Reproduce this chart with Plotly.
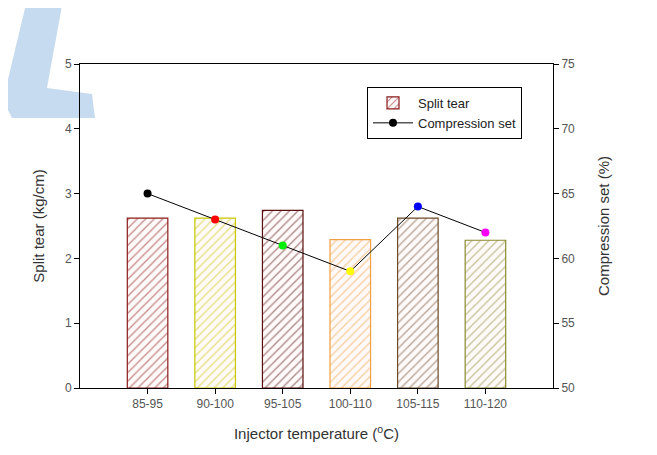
import plotly.graph_objects as go

categories = ["85-95", "90-100", "95-105", "100-110", "105-115", "110-120"]
split_tear = [2.62, 2.62, 2.74, 2.29, 2.62, 2.28]
compression_set = [65.0, 63.0, 61.0, 59.0, 64.0, 62.0]
bar_colors = ["#8b1a1a", "#c8c800", "#5a0f0f", "#f0a040", "#6b4a2a", "#8a8a30"]
marker_colors = ["#000000", "#ff0000", "#00ee00", "#ffff00", "#0000ff", "#ff00ff"]

W, H = 657, 455
OFF = 8  # page body offset
L, R, T, B = 80 - OFF, 553 - OFF, 64 - OFF, 388 - OFF

def px(x, y):
    x -= OFF
    y -= OFF
    return (x - L) / (R - L), (B - y) / (B - T)

fig = go.Figure()

# watermark-like decoration
pts = [(27, 0), (63, 0), (47, 88), (92, 94), (95, 118), (12, 118), (3, 100)]
path = "M " + " L ".join(f"{px(x, y)[0]:.4f},{px(x, y)[1]:.4f}" for x, y in pts) + " Z"
fig.add_shape(type="path", path=path, xref="paper", yref="paper",
              fillcolor="rgba(160,195,228,0.6)", line=dict(width=0), layer="below")

fig.add_trace(go.Bar(
    x=categories, y=split_tear, name="Split tear", width=0.6,
    marker=dict(color="white",
                line=dict(color=bar_colors, width=1.2),
                pattern=dict(shape="/", fgcolor=bar_colors, bgcolor="#fffafa",
                             size=6, solidity=0.22)),
))
fig.add_trace(go.Scatter(
    x=categories, y=compression_set, name="Compression set", yaxis="y2",
    mode="lines+markers",
    line=dict(color="black", width=1),
    marker=dict(color=marker_colors, size=8),
))

axis_font = dict(family="Liberation Sans, Arial", size=12, color="#555")
title_font = dict(family="Liberation Sans, Arial", size=15, color="#333")
lx, ly = px(367, 87)
fig.update_layout(
    width=W, height=H,
    margin=dict(l=L, r=W - R, t=T, b=H - B, autoexpand=False),
    plot_bgcolor="white", paper_bgcolor="white",
    showlegend=True,
    legend=dict(x=lx, y=ly, xanchor="left", yanchor="top",
                bordercolor="black", borderwidth=1, bgcolor="white",
                font=dict(family="Liberation Sans, Arial", size=13, color="#222"),
                tracegroupgap=0, itemwidth=40),
    xaxis=dict(range=[-1, 6], showline=True, linecolor="black", linewidth=1,
               mirror=True, ticks="outside", ticklen=5, tickcolor="black",
               tickfont=axis_font, showgrid=False,
               title=dict(text="Injector temperature (<sup>o</sup>C)",
                          font=title_font, standoff=18)),
    yaxis=dict(range=[0, 5], dtick=1, showline=True, linecolor="black", linewidth=1,
               ticks="outside", ticklen=5, tickcolor="black", tickfont=axis_font,
               showgrid=False, zeroline=False,
               title=dict(text="Split tear (kg/cm)", font=title_font, standoff=16)),
    yaxis2=dict(range=[50, 75], dtick=5, overlaying="y", side="right",
                showline=True, linecolor="black", linewidth=1,
                ticks="outside", ticklen=5, tickcolor="black", tickfont=axis_font,
                showgrid=False, zeroline=False,
                title=dict(text="Compression set (%)", font=title_font, standoff=24)),
)

fig.write_html("out.html")
